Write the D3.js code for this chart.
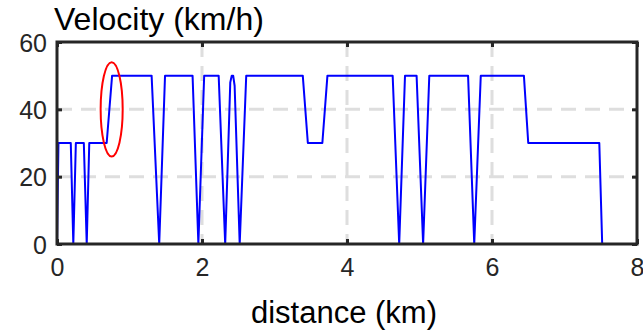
<!DOCTYPE html>
<html>
<head>
<meta charset="utf-8">
<script src="https://cdn.jsdelivr.net/npm/d3@7"></script>
<style>
  body { margin: 0; background: #fff; }
  text { font-family: "Liberation Sans", Arial, Helvetica, sans-serif; }
</style>
</head>
<body>
<div id="chart"></div>
<script>
// Velocity profile along the route

// distance (km) and velocity (km/h)
let distance = [0, 0.02, 0.19, 0.225, 0.26, 0.37, 0.41, 0.445, 0.685, 0.76,
	1.305, 1.41, 1.49, 1.87, 1.95, 2.03, 2.23, 2.32, 2.39, 2.41, 2.43, 2.45, 2.52, 2.61,
	3.39, 3.46, 3.66, 3.73, 4.63, 4.72, 4.80, 4.96, 5.05, 5.135,
	5.67, 5.755, 5.845, 6.44, 6.5, 7.48, 7.52];
let velocity = [0, 30, 30, 0, 30, 30, 0, 30, 30, 50,
	50, 0, 50, 50, 0, 50, 50, 0, 48, 50, 50, 47, 0, 50,
	50, 30, 30, 50, 50, 0, 50, 50, 0, 50,
	50, 0, 50, 50, 30, 30, 0];

let xTicks = [0, 2, 4, 6, 8];
let yTicks = [0, 20, 40, 60];

// highlighted region (centre and half-extent in data units)
let markCentre = [0.754, 40];
let markHalf = [0.152, 14];

let width = 643, height = 331;
let plotLeft = 57, plotRight = 637, plotTop = 42, plotBottom = 244;

let svg = d3.select("#chart")
	.append("svg")
	.attr("width", width)
	.attr("height", height);

let x = d3.scaleLinear().domain([0, 8]).range([plotLeft, plotRight]);
let y = d3.scaleLinear().domain([0, 60]).range([plotBottom, plotTop]);

let ink = "#262626";

// dashed grid
svg.append("g")
	.selectAll("line")
	.data(xTicks.slice(1, -1))
	.enter().append("line")
	.attr("x1", d => x(d)).attr("x2", d => x(d))
	.attr("y1", plotTop).attr("y2", plotBottom)
	.attr("stroke", "#dedede")
	.attr("stroke-width", 3)
	.attr("stroke-dasharray", "15,9");

svg.append("g")
	.selectAll("line")
	.data(yTicks.slice(1, -1))
	.enter().append("line")
	.attr("x1", plotLeft).attr("x2", plotRight)
	.attr("y1", d => y(d)).attr("y2", d => y(d))
	.attr("stroke", "#dedede")
	.attr("stroke-width", 3)
	.attr("stroke-dasharray", "15,9");

// velocity line
let points = distance.map((d, i) => [d, velocity[i]]);
svg.append("path")
	.datum(points)
	.attr("fill", "none")
	.attr("stroke", "#0000ff")
	.attr("stroke-width", 2)
	.attr("stroke-linejoin", "round")
	.attr("d", d3.line().x(d => x(d[0])).y(d => y(d[1])));

// red ellipse marking the acceleration
svg.append("ellipse")
	.attr("cx", x(markCentre[0]))
	.attr("cy", y(markCentre[1]))
	.attr("rx", x(markCentre[0] + markHalf[0]) - x(markCentre[0]))
	.attr("ry", y(markCentre[1] - markHalf[1]) - y(markCentre[1]))
	.attr("fill", "none")
	.attr("stroke", "#ff0000")
	.attr("stroke-width", 2);

// axes with inward ticks
let xBottom = svg.append("g")
	.attr("transform", "translate(0," + plotBottom + ")")
	.call(d3.axisBottom(x).tickValues(xTicks).tickSize(-5).tickPadding(14));
let xTop = svg.append("g")
	.attr("transform", "translate(0," + plotTop + ")")
	.call(d3.axisTop(x).tickValues(xTicks).tickSize(-5).tickFormat(""));
let yLeft = svg.append("g")
	.attr("transform", "translate(" + plotLeft + ",0)")
	.call(d3.axisLeft(y).tickValues(yTicks).tickSize(-5).tickPadding(10));
let yRight = svg.append("g")
	.attr("transform", "translate(" + plotRight + ",0)")
	.call(d3.axisRight(y).tickValues(yTicks).tickSize(-5).tickFormat(""));

[xBottom, xTop, yLeft, yRight].forEach(g => {
	g.select(".domain").remove();
	g.selectAll(".tick line").attr("stroke", ink).attr("stroke-width", 3);
	g.selectAll(".tick text")
		.attr("fill", ink)
		.style("font-size", "25px");
});
yLeft.selectAll(".tick text").attr("dy", "0.36em");

// axes box
svg.append("rect")
	.attr("x", plotLeft).attr("y", plotTop)
	.attr("width", plotRight - plotLeft).attr("height", plotBottom - plotTop)
	.attr("fill", "none")
	.attr("stroke", ink)
	.attr("stroke-width", 3);

// titles
svg.append("text")
	.attr("x", 54).attr("y", 30)
	.attr("fill", "#000")
	.style("font-size", "32px")
	.text("Velocity (km/h)");

svg.append("text")
	.attr("x", 344).attr("y", 323)
	.attr("text-anchor", "middle")
	.attr("fill", "#000")
	.style("font-size", "31px")
	.text("distance (km)");
</script>
</body>
</html>
